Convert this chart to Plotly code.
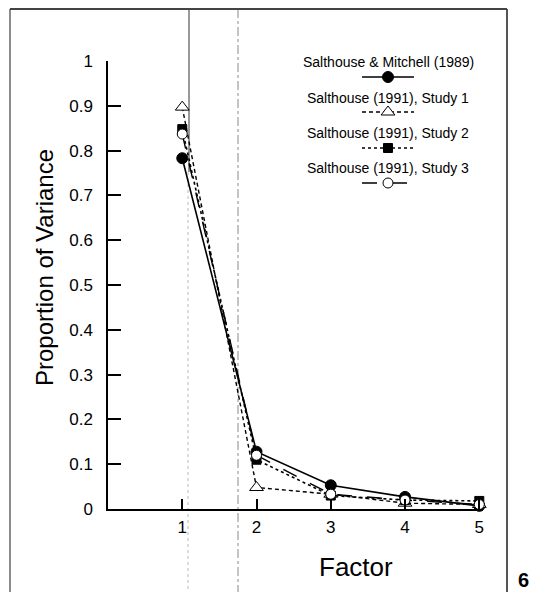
import plotly.graph_objects as go

# ---------------- data ----------------
factors = [1, 2, 3, 4, 5]
sm_1989 = [0.783, 0.128, 0.053, 0.027, 0.007]
study1 = [0.897, 0.048, 0.033, 0.013, 0.010]
study2 = [0.848, 0.110, 0.030, 0.020, 0.018]
study3 = [0.837, 0.120, 0.033, 0.020, 0.010]

series_names = [
    "Salthouse & Mitchell (1989)",
    "Salthouse (1991), Study 1",
    "Salthouse (1991), Study 2",
    "Salthouse (1991), Study 3",
]
y_ticks = [0, 0.1, 0.2, 0.3, 0.4, 0.5, 0.6, 0.7, 0.8, 0.9, 1]
y_tick_labels = ["0", "0.1", "0.2", "0.3", "0.4", "0.5", "0.6", "0.7", "0.8", "0.9", "1"]
x_ticks = [1, 2, 3, 4, 5]
x_tick_labels = ["1", "2", "3", "4", "5"]

# ---------------- layout geometry ----------------
# The page body adds an 8px margin, so the figure is drawn 8px in and down.
OFF = 8
SCR_W, SCR_H = 540, 592
W, H = SCR_W - OFF, SCR_H - OFF
PLOT_LEFT, PLOT_RIGHT, PLOT_TOP, PLOT_BOTTOM = 108, 483, 61, 509  # screen pixels
L = PLOT_LEFT - OFF
R = W - (PLOT_RIGHT - OFF)
T = PLOT_TOP - OFF
B = H - (PLOT_BOTTOM - OFF)
PW = PLOT_RIGHT - PLOT_LEFT
PH = PLOT_BOTTOM - PLOT_TOP
FONT = "Liberation Sans, Arial, Helvetica, sans-serif"


def px(x):
    return (x - PLOT_LEFT) / PW


def py(y):
    return (PLOT_BOTTOM - y) / PH


styles = [
    dict(dash="solid", symbol="circle", size=11, fill="black", width=1.6),
    dict(dash="4px,3px", symbol="triangle-up", size=12, fill="white", width=1.4),
    dict(dash="dot", symbol="square", size=9, fill="black", width=1.6),
    dict(dash="longdash", symbol="circle", size=10, fill="white", width=1.4),
]
series_values = [sm_1989, study1, study2, study3]

fig = go.Figure()

for name, vals, st in zip(series_names, series_values, styles):
    fig.add_trace(go.Scatter(
        x=factors, y=vals, name=name, mode="lines+markers",
        line=dict(color="black", width=st["width"], dash=st["dash"]),
        marker=dict(symbol=st["symbol"], size=st["size"], color=st["fill"],
                    line=dict(color="black", width=1)),
        cliponaxis=False, showlegend=False,
    ))

# ---------------- custom legend (text above, sample below) ----------------
leg_cx = 388
leg_text_y = [62, 98, 133, 168]
leg_sample_y = [77, 112, 148, 183]
half = 26
for name, st, ty, sy in zip(series_names, styles, leg_text_y, leg_sample_y):
    fig.add_annotation(x=px(leg_cx), y=py(ty), xref="paper", yref="paper",
                       text=name, showarrow=False, xanchor="center", yanchor="middle",
                       font=dict(family=FONT, size=14, color="black"))
    fig.add_trace(go.Scatter(
        x=[leg_cx - half, leg_cx + half], y=[sy, sy],
        xaxis="x2", yaxis="y2", mode="lines",
        line=dict(color="black", width=st["width"], dash=st["dash"]),
        cliponaxis=False, showlegend=False, hoverinfo="skip",
    ))
    fig.add_trace(go.Scatter(
        x=[leg_cx], y=[sy],
        xaxis="x2", yaxis="y2", mode="markers",
        marker=dict(symbol=st["symbol"], size=st["size"], color=st["fill"],
                    line=dict(color="black", width=1)),
        cliponaxis=False, showlegend=False, hoverinfo="skip",
    ))

# ---------------- axis titles ----------------
fig.add_annotation(x=px(356), y=py(567), xref="paper", yref="paper",
                   text="Factor", showarrow=False, xanchor="center", yanchor="middle",
                   font=dict(family=FONT, size=26, color="black"))
fig.add_annotation(x=px(44), y=py(268), xref="paper", yref="paper",
                   text="Proportion of Variance", showarrow=False, textangle=-90,
                   xanchor="center", yanchor="middle",
                   font=dict(family=FONT, size=24, color="black"))
fig.add_annotation(x=px(523), y=py(580), xref="paper", yref="paper",
                   text="<b>6</b>", showarrow=False, xanchor="center", yanchor="middle",
                   font=dict(family=FONT, size=20, color="black"))

# ---------------- page frame and scan artefacts ----------------
def vline(x, y0, y1, color, width, dash="solid"):
    fig.add_shape(type="line", xref="paper", yref="paper",
                  x0=px(x), x1=px(x), y0=py(y0), y1=py(y1),
                  line=dict(color=color, width=width, dash=dash), layer="below")


fig.add_shape(type="line", xref="paper", yref="paper",
              x0=px(10), x1=px(507), y0=py(9), y1=py(9),
              line=dict(color="#444", width=2))
vline(10, 9, 592, "#666", 1.5)
vline(507, 9, 592, "#555", 2)
vline(189, 9, 172, "#777", 1.5)
vline(188, 172, 592, "#bbb", 1, "dot")
vline(238, 9, 592, "#888", 1, "dashdot")

# ---------------- axes ----------------
fig.update_layout(
    width=W, height=H,
    margin=dict(l=L, r=R, t=T, b=B, pad=0),
    paper_bgcolor="white", plot_bgcolor="white",
    font=dict(family=FONT, color="black"),
    showlegend=False,
    xaxis=dict(
        range=[0, 5.05], tickvals=x_ticks, ticktext=x_tick_labels,
        ticks="inside", ticklen=10, tickwidth=1.5, tickcolor="black",
        showline=True, linecolor="black", linewidth=1.5,
        showgrid=False, zeroline=False,
        tickfont=dict(family=FONT, size=17, color="black"),
        ticklabelstandoff=2,
    ),
    yaxis=dict(
        range=[0, 1], tickvals=y_ticks, ticktext=y_tick_labels,
        ticks="inside", ticklen=13, tickwidth=1.5, tickcolor="black",
        showline=True, linecolor="black", linewidth=1.5,
        showgrid=False, zeroline=False,
        tickfont=dict(family=FONT, size=17, color="black"),
        ticklabelstandoff=10,
    ),
    xaxis2=dict(range=[PLOT_LEFT, PLOT_RIGHT], overlaying="x", visible=False, fixedrange=True),
    yaxis2=dict(range=[PLOT_BOTTOM, PLOT_TOP], overlaying="y", visible=False, fixedrange=True),
)

fig.write_html("out.html")
